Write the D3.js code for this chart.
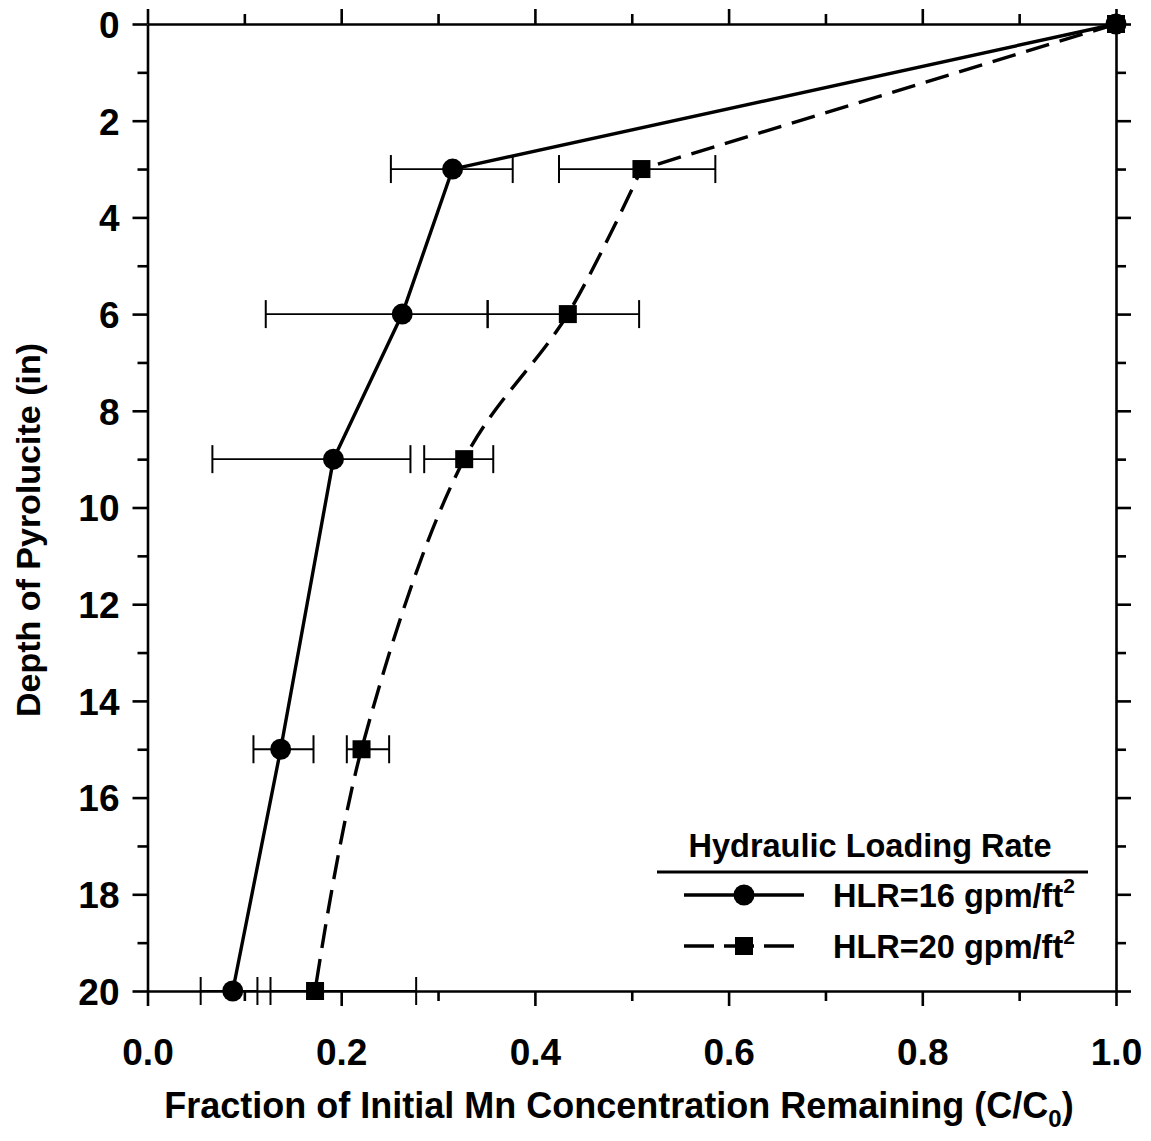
<!DOCTYPE html>
<html>
<head>
<meta charset="utf-8">
<script src="https://cdn.jsdelivr.net/npm/d3@7"></script>
<style>
  body { margin: 0; background: #fff; }
  text { font-family: "Liberation Sans", Arial, Helvetica, sans-serif; font-weight: bold; fill: #000; }
</style>
</head>
<body>
<svg id="chart" width="1151" height="1141"></svg>
<script>
// Depth (in) and C/C0 for the two hydraulic loading rates
const depths = [0, 3, 6, 9, 15, 20];

const hlr16 = [1.0, 0.315, 0.263, 0.192, 0.1375, 0.088];
const hlr16Low = [null, 0.2513, 0.1221, 0.0670, 0.1094, 0.0549];
const hlr16High = [null, 0.3771, 0.3512, 0.2715, 0.1714, 0.1135];

const hlr20 = [1.0, 0.510, 0.434, 0.327, 0.221, 0.173];
const hlr20Low = [null, 0.4249, 0.3512, 0.2857, 0.2058, 0.1270];
const hlr20High = [null, 0.5863, 0.5076, 0.3570, 0.2495, 0.2774];

const xMajorTicks = [0, 0.2, 0.4, 0.6, 0.8, 1.0];
const xMinorTicks = [0.1, 0.3, 0.5, 0.7, 0.9];
const yMajorTicks = [0, 2, 4, 6, 8, 10, 12, 14, 16, 18, 20];
const yMinorTicks = [1, 3, 5, 7, 9, 11, 13, 15, 17, 19];

const legendTitle = "Hydraulic Loading Rate";
const seriesLabels = ["HLR=16 gpm/ft", "HLR=20 gpm/ft"];

const svg = d3.select("#chart");
const x = d3.scaleLinear().domain([0, 1]).range([147.5, 1116]);
const y = d3.scaleLinear().domain([0, 20]).range([24, 991]);

const build = (vals, lo, hi) => depths.map((d, i) => ({ d, v: vals[i], lo: lo[i], hi: hi[i] }));
const s16 = build(hlr16, hlr16Low, hlr16High);
const s20 = build(hlr20, hlr20Low, hlr20High);

// ---- axes (ticks point outward on all four sides) ----
function styleAxis(g, width) {
  g.selectAll("path.domain").attr("stroke", "#000").attr("stroke-width", width);
  g.selectAll(".tick line").attr("stroke", "#000").attr("stroke-width", width);
}
const fmtX = d3.format(".1f");
const tickFont = 37;

// bottom
const gB = svg.append("g").attr("transform", `translate(0,${y(20)})`)
  .call(d3.axisBottom(x).tickValues(xMajorTicks).tickSize(15).tickSizeOuter(0).tickFormat(fmtX));
gB.selectAll(".tick text").attr("font-size", tickFont).attr("dy", 0).attr("y", 74)
  .style("font-family", '"Liberation Sans", Arial, sans-serif').style("font-weight", "bold");
styleAxis(gB, 2.6);
svg.append("g").attr("transform", `translate(0,${y(20)})`)
  .call(d3.axisBottom(x).tickValues(xMinorTicks).tickSize(10).tickSizeOuter(0).tickFormat(""))
  .call(g => g.select("path.domain").remove())
  .call(g => styleAxis(g, 2.6));

// top
svg.append("g").attr("transform", `translate(0,${y(0)})`)
  .call(d3.axisTop(x).tickValues(xMajorTicks).tickSize(15).tickSizeOuter(0).tickFormat(""))
  .call(g => styleAxis(g, 2.6));
svg.append("g").attr("transform", `translate(0,${y(0)})`)
  .call(d3.axisTop(x).tickValues(xMinorTicks).tickSize(10).tickSizeOuter(0).tickFormat(""))
  .call(g => g.select("path.domain").remove())
  .call(g => styleAxis(g, 2.6));

// left
const gL = svg.append("g").attr("transform", `translate(${x(0)},0)`)
  .call(d3.axisLeft(y).tickValues(yMajorTicks).tickSize(15).tickSizeOuter(0).tickFormat(d3.format("d")));
gL.selectAll(".tick text").attr("font-size", tickFont).attr("x", -28).attr("dy", "0.36em")
  .style("font-family", '"Liberation Sans", Arial, sans-serif').style("font-weight", "bold");
styleAxis(gL, 2.6);
svg.append("g").attr("transform", `translate(${x(0)},0)`)
  .call(d3.axisLeft(y).tickValues(yMinorTicks).tickSize(10).tickSizeOuter(0).tickFormat(""))
  .call(g => g.select("path.domain").remove())
  .call(g => styleAxis(g, 2.6));

// right
svg.append("g").attr("transform", `translate(${x(1)},0)`)
  .call(d3.axisRight(y).tickValues(yMajorTicks).tickSize(15).tickSizeOuter(0).tickFormat(""))
  .call(g => styleAxis(g, 2.6));
svg.append("g").attr("transform", `translate(${x(1)},0)`)
  .call(d3.axisRight(y).tickValues(yMinorTicks).tickSize(10).tickSizeOuter(0).tickFormat(""))
  .call(g => g.select("path.domain").remove())
  .call(g => styleAxis(g, 2.6));

// ---- axis titles ----
const xt = svg.append("text").attr("x", 619).attr("y", 1118)
  .attr("text-anchor", "middle").attr("font-size", 36);
xt.append("tspan").text("Fraction of Initial Mn Concentration Remaining (C/C");
xt.append("tspan").attr("font-size", 24).attr("dy", 9).text("0");
xt.append("tspan").attr("dy", -9).text(")");

svg.append("text")
  .attr("transform", `translate(40,${530}) rotate(-90)`)
  .attr("text-anchor", "middle").attr("font-size", 34)
  .text("Depth of Pyrolucite (in)");

// ---- error bars ----
const capH = 14;
function errorBars(data) {
  const g = svg.append("g").attr("stroke", "#000").attr("fill", "none");
  data.filter(p => p.lo != null).forEach(p => {
    g.append("line").attr("x1", x(p.lo)).attr("x2", x(p.hi)).attr("y1", y(p.d)).attr("y2", y(p.d)).attr("stroke-width", 1.8);
    [p.lo, p.hi].forEach(v => g.append("line").attr("x1", x(v)).attr("x2", x(v))
      .attr("y1", y(p.d) - capH).attr("y2", y(p.d) + capH).attr("stroke-width", 2));
  });
}
errorBars(s16);
errorBars(s20);

// ---- lines ----
const straight = d3.line().x(p => x(p.v)).y(p => y(p.d));
svg.append("path").datum(s16).attr("d", straight)
  .attr("fill", "none").attr("stroke", "#000").attr("stroke-width", 3.4).attr("stroke-linejoin", "round");

const dash = "24,11";
svg.append("path").datum(s20.slice(0, 2)).attr("d", straight)
  .attr("fill", "none").attr("stroke", "#000").attr("stroke-width", 3.4).attr("stroke-dasharray", dash);
const smooth = d3.line().x(p => x(p.v)).y(p => y(p.d)).curve(d3.curveCatmullRom.alpha(0.5));
svg.append("path").datum(s20.slice(1)).attr("d", smooth)
  .attr("fill", "none").attr("stroke", "#000").attr("stroke-width", 3.4).attr("stroke-dasharray", dash)
  .attr("stroke-dashoffset", 12);

// ---- markers ----
svg.append("g").selectAll("circle").data(s16).join("circle")
  .attr("cx", p => x(p.v)).attr("cy", p => y(p.d)).attr("r", 10.5).attr("fill", "#000");
const sq = 18;
svg.append("g").selectAll("rect").data(s20).join("rect")
  .attr("x", p => x(p.v) - sq / 2).attr("y", p => y(p.d) - sq / 2)
  .attr("width", sq).attr("height", sq).attr("fill", "#000");

// ---- legend ----
const legendFont = 32.5;
const lg = svg.append("g");
lg.append("text").attr("x", 870).attr("y", 857).attr("text-anchor", "middle")
  .attr("font-size", legendFont).text(legendTitle);
lg.append("line").attr("x1", 657).attr("x2", 1088).attr("y1", 872).attr("y2", 872)
  .attr("stroke", "#000").attr("stroke-width", 3);

const rows = [895, 946];
lg.append("line").attr("x1", 684).attr("x2", 804).attr("y1", rows[0]).attr("y2", rows[0])
  .attr("stroke", "#000").attr("stroke-width", 3.4);
lg.append("circle").attr("cx", 744).attr("cy", rows[0]).attr("r", 10.5).attr("fill", "#000");

lg.append("line").attr("x1", 684).attr("x2", 804).attr("y1", rows[1]).attr("y2", rows[1])
  .attr("stroke", "#000").attr("stroke-width", 3.4).attr("stroke-dasharray", "30,10");
lg.append("rect").attr("x", 744 - sq / 2).attr("y", rows[1] - sq / 2).attr("width", sq).attr("height", sq).attr("fill", "#000");

seriesLabels.forEach((lab, i) => {
  const t = lg.append("text").attr("x", 833).attr("y", rows[i] + 12).attr("font-size", legendFont);
  t.append("tspan").text(lab);
  t.append("tspan").attr("font-size", 21).attr("dy", -14).text("2");
});
</script>
</body>
</html>
